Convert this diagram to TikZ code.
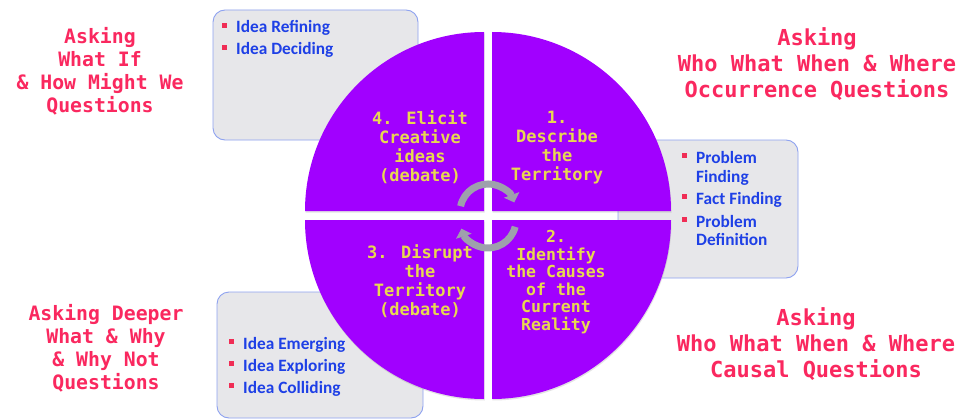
\documentclass[tikz,border=0pt]{standalone}
\usepackage{fontspec}
\newfontfamily\monof{DejaVu Sans Mono}
\newfontfamily\carl{Carlito}
\usetikzlibrary{arrows.meta,shadows}
\definecolor{qpurple}{RGB}{161,0,255}
\definecolor{qyellow}{RGB}{232,216,80}
\definecolor{askpink}{RGB}{250,40,95}
\definecolor{itemblue}{RGB}{30,64,230}
\definecolor{bulred}{RGB}{240,45,85}
\definecolor{boxgrey}{RGB}{231,231,234}
\definecolor{boxblue}{RGB}{142,162,240}
\definecolor{cycgrey}{RGB}{158,160,172}
\begin{document}
\begin{tikzpicture}[x=1pt,y=-1pt,
  boxst/.style={draw=boxblue, line width=0.9pt, fill=boxgrey, rounded corners=12pt, inner sep=0pt},
  item/.style={anchor=base west, inner sep=0pt, text=itemblue, font=\carl\bfseries\fontsize{17.3}{19}\selectfont},
  askl/.style={align=center, text=askpink, inner sep=0pt, font=\monof\bfseries\fontsize{19.8}{23}\selectfont},
  askr/.style={align=center, text=askpink, inner sep=0pt, font=\monof\bfseries\fontsize{22}{26}\selectfont},
  quad/.style={fill=qpurple, drop shadow={opacity=0.22, shadow xshift=0.5pt, shadow yshift=-1.5pt}},
  qtext/.style={align=center, text=qyellow, inner sep=0pt, font=\monof\bfseries\fontsize{17}{19}\selectfont},
  bul/.style={fill=bulred},
  cyc/.style={line width=7pt, draw=cycgrey, -{Triangle[length=8pt,width=16pt]}}
]
\useasboundingbox (0,0) rectangle (961,420);
\fill[white] (0,0) rectangle (961,420);

% boxes behind the circle
\node[boxst, minimum width=205pt, minimum height=130pt] (bx1) at (315.5,75) {};
\node[boxst, minimum width=180pt, minimum height=138pt] (bx2) at (708,209) {};
\node[boxst, minimum width=206pt, minimum height=126pt] (bx3) at (320,355) {};

% quadrants
\fill[quad] (492,211) -- (671,211) arc[start angle=0, end angle=-90, radius=179] -- cycle;
\fill[quad] (484,211) -- (484,32) arc[start angle=-90, end angle=-180, radius=179] -- cycle;
\fill[quad] (484,220) -- (305,220) arc[start angle=180, end angle=90, radius=179] -- cycle;
\fill[quad] (492,220) -- (492,399) arc[start angle=90, end angle=0, radius=179] -- cycle;

% cycle arrows
\draw[cyc] (488,212) ++(192:28) arc[start angle=192, end angle=340, radius=28];
\draw[cyc] (488,220) ++(14:28) arc[start angle=14, end angle=162, radius=28];

% quadrant texts
\node[qtext] (q4) at (420,147) {4. Elicit\\Creative\\ideas\\(debate)};
\node[qtext] (q1) at (557,148) {1.\\Describe\\the\\Territory};
\node[qtext, font=\monof\bfseries\fontsize{16.5}{17.6}\selectfont] (q2) at (556,282) {2.\\Identify\\the Causes\\of the\\Current\\Reality};
\node[qtext] (q3) at (420,281.5) {3. Disrupt\\the\\Territory\\(debate)};

% box 1 items
\fill[bul] (222,23) rectangle (227,28);
\node[item] (i11) at (236,33) {Idea Refining};
\fill[bul] (222,45) rectangle (227,50);
\node[item] (i12) at (236,55) {Idea Deciding};

% box 2 items
\fill[bul] (682,153) rectangle (687,158);
\node[item] (i21) at (696,163) {Problem};
\node[item] (i21b) at (696,182) {Finding};
\fill[bul] (682,194) rectangle (687,199);
\node[item] (i22) at (696,204) {Fact Finding};
\fill[bul] (682,217) rectangle (687,222);
\node[item] (i23) at (696,227) {Problem};
\node[item] (i23b) at (696,245) {Definition};

% box 3 items
\fill[bul] (229,339) rectangle (234,344);
\node[item] (i31) at (243,349) {Idea Emerging};
\fill[bul] (229,361) rectangle (234,366);
\node[item] (i32) at (243,371) {Idea Exploring};
\fill[bul] (229,383) rectangle (234,388);
\node[item] (i33) at (243,393) {Idea Colliding};

% question headings
\node[askl] (a1) at (100,71.5) {Asking\\What If\\\& How Might We\\Questions};
\node[askl] (a3) at (106,348.5) {Asking Deeper\\What \& Why\\\& Why Not\\Questions};
\node[askr] (a2) at (817,64) {Asking\\Who What When \& Where\\Occurrence Questions};
\node[askr] (a4) at (816,344) {Asking\\Who What When \& Where\\Causal Questions};
\end{tikzpicture}
\end{document}
